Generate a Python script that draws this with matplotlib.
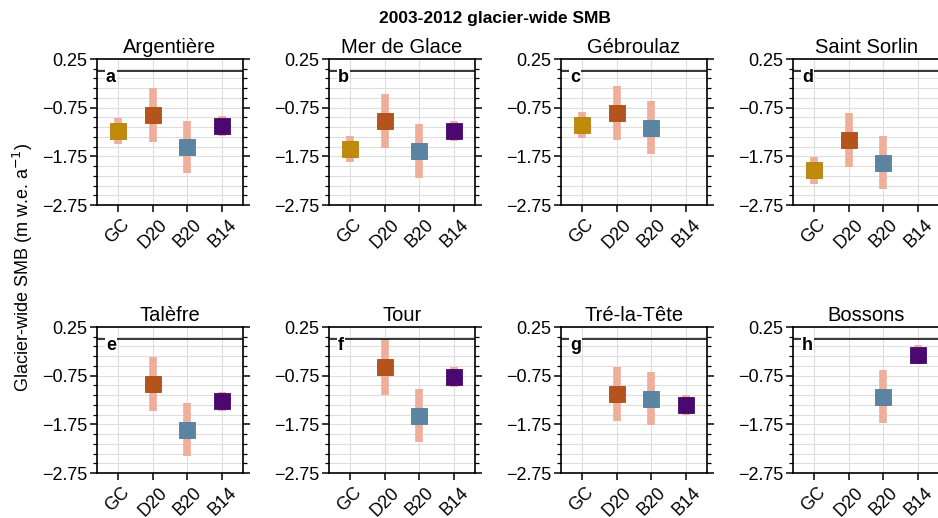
import numpy as np
import matplotlib
matplotlib.use('Agg')
import matplotlib.pyplot as plt
from matplotlib.ticker import FixedLocator

plt.rcParams['font.family'] = ['Liberation Sans', 'DejaVu Sans']

nan = np.nan

glaciers = ['Argentière', 'Mer de Glace', 'Gébroulaz', 'Saint Sorlin',
            'Talèfre', 'Tour', 'Tré-la-Tête', 'Bossons']
letters = ['a', 'b', 'c', 'd', 'e', 'f', 'g', 'h']
models = ['GC', 'D20', 'B20', 'B14']

# glacier-wide SMB (m w.e. a-1) and uncertainty, one list per model
gc_smb = [-1.23, -1.60, -1.10, -2.04, nan, nan, nan, nan]
gc_err = [0.27, 0.27, 0.27, 0.27, nan, nan, nan, nan]
d20_smb = [-0.90, -1.02, -0.86, -1.41, -0.92, -0.57, -1.13, nan]
d20_err = [0.55, 0.56, 0.55, 0.55, 0.55, 0.57, 0.55, nan]
b20_smb = [-1.56, -1.64, -1.16, -1.88, -1.86, -1.57, -1.22, -1.18]
b20_err = [0.54, 0.55, 0.55, 0.55, 0.55, 0.55, 0.55, 0.55]
b14_smb = [-1.13, -1.23, nan, nan, -1.28, -0.78, -1.35, -0.32]
b14_err = [0.20, 0.20, nan, nan, 0.20, 0.21, 0.20, 0.20]

smb = [gc_smb, d20_smb, b20_smb, b14_smb]
err = [gc_err, d20_err, b20_err, b14_err]
colors = ['#c08a0a', '#b5531c', '#5a84a2', '#4a0870']
edge_colors = ['#b38008', '#a84c18', '#547c99', '#440766']
err_color = '#efae9a'

y_major = [0.25, -0.75, -1.75, -2.75]
y_minor = np.arange(-2.75, 0.26, 0.2)

W, H = 938, 518
fig = plt.figure(figsize=(W / 100, H / 100), dpi=100)

lefts = [97, 329, 561, 793]
tops = [59, 327]
size = 146

for i, name in enumerate(glaciers):
  row, col = divmod(i, 4)
  ax = fig.add_axes([lefts[col] / W, (H - tops[row] - size) / H, size / W, size / H])
  x = np.arange(len(models))
  for m in range(len(models)):
    v = smb[m][i]
    e = err[m][i]
    if np.isnan(v):
      continue
    ax.errorbar(x[m], v, yerr=e, fmt='none', ecolor=err_color, elinewidth=5.5,
                capsize=0, zorder=2)
    ax.plot(x[m], v, 's', ms=11, mfc=colors[m], mec=edge_colors[m], mew=0.6, zorder=3)

  ax.axhline(0, color='k', lw=1.1, zorder=2.5)
  ax.set_xlim(-0.6, 3.6)
  ax.set_ylim(-2.75, 0.25)
  ax.set_xticks(x)
  ax.set_xticklabels(models, rotation=45, fontsize=13)
  ax.yaxis.set_major_locator(FixedLocator(y_major))
  ax.yaxis.set_minor_locator(FixedLocator(y_minor))
  ax.set_yticklabels(['%.2f' % t if t >= 0 else '\u2212%.2f' % -t for t in y_major], fontsize=13)
  ax.tick_params(which='major', axis='both', length=5, width=1.1, direction='out', pad=2)
  ax.tick_params(which='major', axis='x', pad=3)
  ax.tick_params(which='minor', axis='y', length=3, width=0.9, direction='out')
  ax.tick_params(axis='y', which='both', right=True, labelright=False)
  ax.set_axisbelow(True)
  ax.grid(which='both', axis='y', color='#dedede', lw=0.8)
  ax.grid(which='major', axis='x', color='#dedede', lw=0.8)
  for s in ax.spines.values():
    s.set_linewidth(1.2)
  ax.set_title(name, fontsize=14.5, pad=4)
  ax.text(0.06, 0.875, letters[i], transform=ax.transAxes, fontsize=13, fontweight='bold',
          ha='left', va='center', zorder=5,
          bbox=dict(facecolor='white', edgecolor='none', pad=0.8))

fig.text(0.528, 0.965, '2003-2012 glacier-wide SMB', ha='center', va='center',
         fontsize=12.5, fontweight='bold')
fig.text(0.024, 0.483, 'Glacier-wide SMB (m w.e. a$^{-1}$)', rotation=90,
         ha='center', va='center', fontsize=13)

fig.savefig('out.png', dpi=100)
